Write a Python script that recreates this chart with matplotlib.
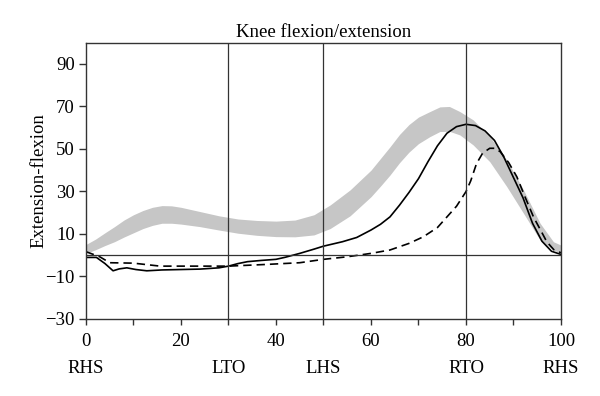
import numpy as np
import matplotlib.pyplot as plt
from matplotlib.ticker import MultipleLocator

plt.rcParams['font.family'] = ['Liberation Serif', 'DejaVu Serif']

# ---------------------------------------------------------
# Data (% of gait cycle vs. angle)
# ---------------------------------------------------------
# Normal range (grey band)
band_x = [0, 2, 4, 6, 8, 10, 12, 14, 16, 18, 20, 24, 28, 32, 36, 40, 44,
          48, 51.4, 55.6, 60, 62, 64, 66, 68, 70, 72.4, 74.5, 76.5, 78.7,
          81.5, 85, 88.6, 92.1, 95.6, 98.4, 100]
band_hi = [5, 7.5, 10.5, 13.4, 16.5, 19, 21, 22.5, 23.3, 23.2, 22.5, 20.5,
           18.5, 17, 16.3, 16, 16.5, 19, 23.6, 30.7, 40, 45.5, 51, 56.8,
           61.5, 65, 67.6, 69.8, 70, 67.6, 63.7, 55.8, 44.8, 30.7, 15, 6.3,
           4.7]
band_lo = [0.8, 2.5, 4.5, 6.3, 8.5, 10.5, 12.5, 14, 15, 15, 14.6, 13.4,
           11.8, 10.3, 9.3, 8.7, 8.6, 9.5, 12.5, 18.5, 27.5, 32.5, 37.7,
           43.5, 48.5, 52.5, 55.8, 58.2, 58.3, 56.6, 51.9, 44, 32.2, 19.7,
           7.1, 2.4, 0.9]

# Solid curve
solid_x = [0, 2.2, 4, 5.7, 7, 8.6, 10.5, 12.8, 16, 20, 24, 28, 30, 32, 34,
           37, 40, 42, 45, 48, 50, 54, 57, 60, 62, 64, 66, 68, 70, 72, 74,
           76, 78, 80, 82, 84, 86, 88, 90, 92, 94, 96, 98, 100]
solid_y = [-1.1, -1.1, -4, -7.4, -6.5, -6, -6.8, -7.4, -7, -6.8, -6.6, -6,
           -5.2, -4, -3.1, -2.5, -2, -1, 0.8, 2.8, 4.2, 6.3, 8.3, 11.8, 14.5,
           18, 23.5, 29.5, 36, 44, 51.5, 57.4, 60.5, 61.6, 61, 58.5, 54, 46,
           36.5, 27, 15, 6.5, 1.8, 0.3]

# Dashed curve
dash_x = [0, 2.9, 5, 10, 15.6, 20, 30, 38, 45, 50, 55, 60, 64, 68, 71, 74,
          76, 78, 80, 81, 82.2, 83.5, 85, 86, 87.2, 89, 90.7, 92.5, 94.2, 96,
          97, 98.5, 100]
dash_y = [1.6, -0.8, -3.6, -3.8, -5.2, -5.2, -5.2, -4.4, -3.6, -2, -0.8, 0.8,
          2.4, 5.5, 8.6, 13, 18, 23, 29.9, 35, 43, 48, 50.3, 50.3, 48.7, 43.5,
          36.9, 27, 18, 10.5, 6.3, 2.5, 1.1]

# Gait events
event_x = [0, 30, 50, 80, 100]
event_labels = ['RHS', 'LTO', 'LHS', 'RTO', 'RHS']

# ---------------------------------------------------------
# Plot
# ---------------------------------------------------------
fig = plt.figure(figsize=(6, 3.96), dpi=100)
ax = fig.add_axes([0.1433, 0.195, 0.7917, 0.697])

ax.fill_between(band_x, band_lo, band_hi, color='#c6c6c6', linewidth=0)
ax.plot(solid_x, solid_y, color='black', linewidth=1.2)
ax.plot(dash_x, dash_y, color='black', linewidth=1.2, linestyle=(0, (5, 3)))

ax.axhline(0, color='#333333', linewidth=0.9)
for xv in event_x[1:4]:
    ax.axvline(xv, color='#333333', linewidth=0.9)

ax.set_xlim(0, 100)
ax.set_ylim(-30, 100)
ax.set_xticks([0, 20, 40, 60, 80, 100])
ax.xaxis.set_minor_locator(MultipleLocator(10))
ax.set_yticks([-30, -10, 10, 30, 50, 70, 90])
ax.tick_params(axis='both', which='both', direction='out', labelsize=13.5,
               width=1.0, color='#333333')
ax.tick_params(axis='y', which='major', length=5, pad=3)
ax.tick_params(axis='x', which='both', length=4.5, pad=6)
for s in ax.spines.values():
    s.set_linewidth(1.0)
    s.set_color('#333333')

for xv, lab in zip(event_x, event_labels):
    ax.text(xv, -0.148, lab, transform=ax.get_xaxis_transform(),
            ha='center', va='top', fontsize=13.5)

ax.set_ylabel('Extension-flexion', fontsize=13.5, va='center')
ax.yaxis.set_label_coords(-0.1, 0.5)
ax.set_title('Knee flexion/extension', fontsize=13.5, pad=4)

plt.savefig('out.png', dpi=100)
